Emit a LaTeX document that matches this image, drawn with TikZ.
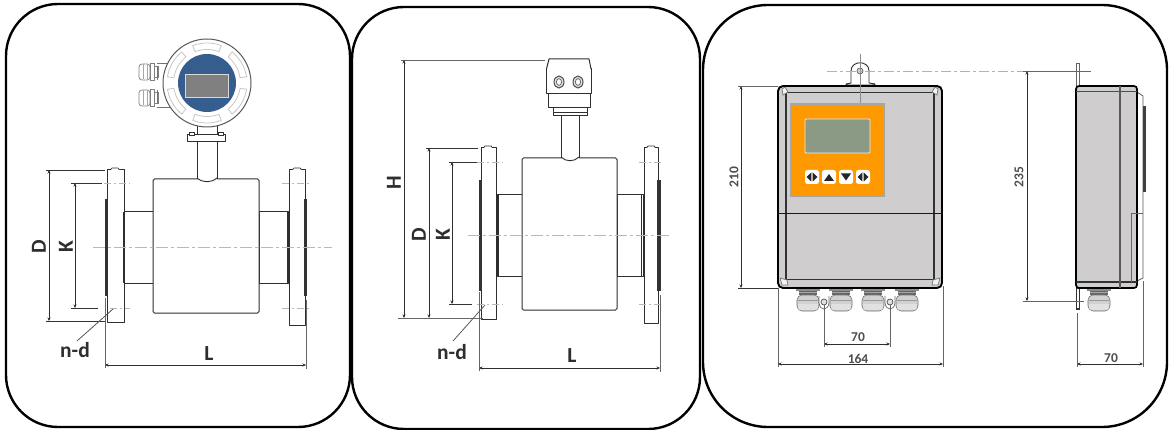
\documentclass[tikz,border=0pt]{standalone}
\usepackage{fontspec}
\setmainfont{Carlito}
\usetikzlibrary{arrows.meta}
\definecolor{ink}{HTML}{2E2E2E}
\definecolor{boxgray}{HTML}{CFCDCE}
\definecolor{blueface}{HTML}{355E8F}
\definecolor{lcdgray}{HTML}{808080}
\definecolor{panelorange}{HTML}{FF9900}
\definecolor{lcdgreen}{HTML}{8A9A85}
\tikzset{
  panel/.style={draw=black,line width=2.4pt,fill=white},
  part/.style={draw=ink,line width=1pt,fill=white,line join=round},
  gasket/.style={draw=none,fill=black!80},
  centre/.style={draw=black!28,line width=0.9pt,dash pattern=on 12pt off 3pt on 3pt off 3pt},
  holecl/.style={draw=black!28,line width=0.9pt,dash pattern=on 7pt off 3pt on 2pt off 3pt},
  ext/.style={draw=black!60,line width=0.8pt},
  extdark/.style={draw=black!80,line width=0.7pt},
  dimline/.style={draw=ink,line width=0.7pt,{Stealth[length=3.5pt,width=3pt]}-{Stealth[length=3.5pt,width=3pt]}},
  leader/.style={draw=black!65,line width=0.8pt},
  biglabel/.style={text=ink,inner sep=0pt,font=\fontsize{21.5}{22}\selectfont\bfseries},
  smalllabel/.style={text=ink!85,inner sep=0pt,font=\fontsize{13.5}{14}\selectfont\bfseries},
  lightpart/.style={draw=black!50,line width=0.7pt,fill=white},
  btn/.style={draw=none,fill=white,rounded corners=2.5pt,minimum size=14pt,inner sep=0pt},
  btnmark/.style={fill=black!85,draw=none}
}
\newcommand{\dimto}[5]{% name, x1,y1,x2,y2
  \coordinate (#1a) at (#2,#3);\coordinate (#1b) at (#4,#5);
  \draw[dimline] (#1a) -- (#1b);}
\newcommand{\extto}[6][ext]{% style, name, x1,y1,x2,y2
  \coordinate (#2a) at (#3,#4);\coordinate (#2b) at (#5,#6);
  \draw[#1] (#2a) -- (#2b);}
\newcommand{\glandv}[2]{%
  \begin{scope}[shift={(#1,#2)}]
    \fill[black!45] (-12,0) rectangle (12,2);
    \fill[black!60] (-9,2) rectangle (9,6);
    \draw[black!35,line width=0.6pt] (-9,3.5) -- (9,3.5);
    \draw[draw=black!55,line width=0.6pt,fill=black!18,rounded corners=5pt] (-11,6) -- (11,6) -- (11,22) -- (-11,22) -- cycle;
    \draw[black!40,line width=0.5pt] (-10,11) -- (10,11);
    \fill[white,opacity=.35] (-10,15) rectangle (10,21);
  \end{scope}}
\newcommand{\glandh}[2]{%
  \begin{scope}[shift={(#1,#2)}]
    \draw[lightpart,rounded corners=3pt] (0,-8) -- (11,-8) -- (11,8) -- (0,8) -- cycle;
    \draw[black!35,line width=0.5pt] (4,-7.5) -- (4,7.5) (8,-7.5) -- (8,7.5);
    \draw[lightpart] (11,-8.5) rectangle (15,8.5);
    \draw[lightpart] (15,-5.5) rectangle (19,5.5);
  \end{scope}}
\begin{document}
\begin{tikzpicture}[x=1pt,y=-1pt]
\useasboundingbox (0,0) rectangle (1174,430);
\fill[white] (0,0) rectangle (1174,430);
% ---------- panels
\draw[panel,rounded corners=52pt] (6,4) rectangle (350,427);
\draw[panel,rounded corners=52pt] (352,7) rectangle (700,429);
\draw[panel,rounded corners=65pt] (703,5) rectangle (1167,427);

% ---------- PANEL 1
\glandh{139}{72}
\glandh{139}{98}
\draw[draw=black!55,line width=0.7pt] (157,63) -- (172,63) (157,66.5) -- (157,80) (157,90) -- (157,103) (157,107) -- (172,107);
\draw[part] (197,120) rectangle (217,181);
\draw[part] (187,135) rectangle (225,142);
\draw[part,line width=0.6pt] (189,132) rectangle (194,135);
\draw[part,line width=0.6pt] (218,132) rectangle (223,135);
\draw[draw=black!65,line width=1pt,fill=white] (207,83) circle[radius=44];
\foreach \a in {90,30,-30,-90,150,210}{
  \draw[draw=black!22,line width=0.8pt,fill=white]
    plot[domain=\a-21:\a+21,samples=12] ({207+40*cos(\x)},{83+40*sin(\x)}) --
    plot[domain=\a+21:\a-21,samples=12] ({207+33.5*cos(\x)},{83+33.5*sin(\x)}) -- cycle;
}
\fill[blueface] (207,83) circle[radius=29];
\draw[draw=black!15,line width=0.9pt,fill=lcdgray] (185,74) rectangle (228,97);
\draw[part] (124,212) rectangle (153,283);
\draw[part] (259,212) rectangle (288,283);
\draw[part,rounded corners=1.5pt] (153,179) rectangle (259,313);
\draw[draw=white,fill=white] (198,178.5) rectangle (216,179.5);
\draw[draw=ink,line width=0.9pt] (197,178) .. controls (203,183) and (211,183) .. (217,178);
\draw[part] (107,170) rectangle (124,322);
\draw[part] (289,170) rectangle (305,325);
\draw[part,line width=0.7pt] (123,212) -- (123,283);
\draw[part,line width=0.7pt] (287,212) -- (287,283);
\draw[part,line width=0.7pt,rounded corners=1pt] (111,170) -- (111,168) -- (119,168) -- (119,170);
\draw[part,line width=0.7pt,rounded corners=1pt] (293,170) -- (293,168) -- (301,168) -- (301,170);
\fill[gasket] (105,199) rectangle (108,296);
\fill[gasket] (304,199) rectangle (307,296);
\draw[centre] (93,247) -- (332,247);
\draw[holecl] (104,183) -- (130,183);
\draw[holecl] (282,183) -- (310,183);
\draw[holecl] (110,308) -- (130,308);
\draw[holecl] (282,308) -- (310,308);
\extto[extdark]{ea1}{46}{170}{105}{170}
\extto[extdark]{ea2}{46}{321}{105}{321}
\extto[extdark]{ea3}{71}{183}{102}{183}
\extto[extdark]{ea4}{71}{308}{98}{308}
\dimto{da1}{49}{170}{49}{321}
\dimto{da2}{75}{183}{75}{308}
\extto{ea5}{105}{298}{105}{368}
\extto{ea6}{306}{300}{306}{369}
\dimto{da3}{105}{365}{306}{365}
\coordinate (la1) at (77,341);\coordinate (la2) at (113,309);
\draw[leader] (la1) -- (la2);
\node[biglabel,rotate=90] (lbDa) at (39,247) {D};
\node[biglabel,rotate=90] (lbKa) at (66,247) {K};
\node[biglabel] (lbNa) at (75,350) {n-d};
\node[biglabel] (lbLa) at (209,354) {L};

% ---------- PANEL 2
\draw[part] (561,114) rectangle (579,159.5);
\draw[part] (553,108) rectangle (587,116);
\draw[part,line width=0.7pt] (553,112) -- (587,112);
\draw[part] (548,94) -- (548,108) -- (590,108) -- (590,94);
\draw[part,fill=white] (546.5,69) rectangle (591,94);
\draw[part] (546.5,69) -- (549,59) -- (589,59) -- (591,69);
\foreach \hx in {559,578}{
  \draw[draw=black!70,line width=1pt,fill=black!12] (\hx,82) ellipse[x radius=5,y radius=6];
  \draw[draw=black!60,line width=0.8pt,fill=white] (\hx,82) ellipse[x radius=2.6,y radius=3.4];
}
\draw[part] (497,195) rectangle (522,276);
\draw[part] (617,195) rectangle (643,276);
\draw[part,rounded corners=1.5pt] (522,158) rectangle (617,310);
\draw[draw=white,fill=white] (562,157.5) rectangle (578,158.5);
\draw[draw=ink,line width=0.9pt] (561,157) .. controls (566,162) and (574,162) .. (579,157);
\draw[part] (481,148) rectangle (496,319);
\draw[part] (644,148) rectangle (658,323);
\draw[part,line width=0.7pt] (641,195) -- (641,276);
\draw[part,line width=0.7pt] (498,195) -- (498,276);
\draw[part,line width=0.7pt,rounded corners=1pt] (484,148) -- (484,146) -- (492,146) -- (492,148);
\draw[part,line width=0.7pt,rounded corners=1pt] (647,148) -- (647,146) -- (655,146) -- (655,148);
\fill[gasket] (479,180) rectangle (482,291);
\fill[gasket] (657,180) rectangle (661,291);
\draw[centre] (468,235) -- (672,235);
\draw[holecl] (477,162) -- (503,162);
\draw[holecl] (639,162) -- (663,162);
\draw[holecl] (477,304) -- (503,304);
\draw[holecl] (639,304) -- (663,304);
\extto{eb1}{401}{60}{545}{60}
\extto{eb2}{398}{318}{483}{318}
\extto[extdark]{eb3}{426}{148}{478}{148}
\extto[extdark]{eb4}{449}{162}{477}{162}
\extto[extdark]{eb5}{449}{304}{472}{304}
\dimto{db1}{404}{60}{404}{318}
\dimto{db2}{429}{148}{429}{318}
\dimto{db3}{452}{162}{452}{304}
\extto{eb6}{479}{292}{479}{371}
\extto{eb7}{660}{295}{660}{372}
\dimto{db4}{479}{368}{660}{368}
\coordinate (lb1) at (453,341);\coordinate (lb2) at (485,305);
\draw[leader] (lb1) -- (lb2);
\node[biglabel,rotate=90] (lbHb) at (394,183) {H};
\node[biglabel,rotate=90] (lbDb) at (419,235) {D};
\node[biglabel,rotate=90] (lbKb) at (443,235) {K};
\node[biglabel] (lbNb) at (452,352) {n-d};
\node[biglabel] (lbLb) at (572,356) {L};

% ---------- PANEL 3 front view
\glandv{808}{289}
\glandv{841}{289}
\glandv{873}{289}
\glandv{907}{289}
\foreach \sx in {824,890}{
  \draw[draw=black!60,line width=0.7pt,fill=white] (\sx-5,296) -- (\sx-5,303) .. controls (\sx-4,311) and (\sx+4,311) .. (\sx+5,303) -- (\sx+5,296);
  \draw[draw=black!70,line width=0.7pt,fill=black!12] (\sx,302) circle[radius=3];
}
\draw[part,line width=0.9pt] (846,85) -- (846,84) -- (851,83) -- (851,71) .. controls (851,60) and (869,60) .. (869,71) -- (869,83) -- (875,84) -- (875,85) -- cycle;
\draw[draw=black!65,line width=0.7pt,fill=black!15] (860,71) circle[radius=3];
\draw[draw=black,line width=1.9pt,fill=boxgray,rounded corners=5pt] (778,86) rectangle (942,288);
\draw[draw=black!80,line width=1pt] (786,93) -- (934,93) (786,279) -- (934,279);
\draw[draw=black!80,line width=1.3pt] (786,93) -- (786,279) (934,93) -- (934,279);
\draw[draw=black!55,line width=0.7pt,fill=black!5] (782,89) -- (785,87) -- (788,92) -- (783,95) -- cycle;
\draw[draw=black!55,line width=0.7pt,fill=black!5] (938,89) -- (935,87) -- (932,92) -- (937,95) -- cycle;
\draw[draw=black!55,line width=0.7pt,fill=black!5] (782,285) -- (788,285) -- (787,280) -- (780,278) -- cycle;
\draw[draw=black!55,line width=0.7pt,fill=black!5] (938,285) -- (932,285) -- (933,280) -- (940,278) -- cycle;
\draw[draw=black!90,line width=0.8pt] (778,213) -- (942,213);
\fill[black!35] (790,103) rectangle (885,197);
\fill[panelorange] (792,105) rectangle (883,195);
\draw[draw=black!8,line width=0.8pt,fill=lcdgreen,rounded corners=1pt] (805,119) rectangle (870,153);
\node[btn] (btnA) at (812,177) {};
\node[btn] (btnB) at (829,177) {};
\node[btn] (btnC) at (846,177) {};
\node[btn] (btnD) at (863,177) {};
\fill[btnmark] (811.3,172.5) -- (811.3,181.5) -- (806.5,177) -- cycle;
\fill[btnmark] (812.7,172.5) -- (812.7,181.5) -- (817.5,177) -- cycle;
\fill[btnmark] (824,181) -- (834,181) -- (829,174) -- cycle;
\fill[btnmark] (841,173.5) -- (851,173.5) -- (846,180.5) -- cycle;
\fill[btnmark] (862.3,172.5) -- (862.3,181.5) -- (857.5,177) -- cycle;
\fill[btnmark] (863.7,172.5) -- (863.7,181.5) -- (868.5,177) -- cycle;
\draw[draw=black!45,line width=0.8pt] (860,54) -- (860,103);
\draw[draw=black!30,line width=0.8pt,dash pattern=on 10pt off 3pt on 3pt off 3pt] (827,71) -- (1023,71);
\extto{ec1}{738}{86}{778}{86}
\extto[extdark]{ec2}{738}{288}{778}{288}
\dimto{dc1}{741}{86}{741}{288}
\extto{ec3}{824}{305}{824}{347}
\extto{ec4}{890}{305}{890}{347}
\dimto{dc2}{824}{344}{890}{344}
\extto{ec5}{778}{288}{778}{367}
\extto{ec6}{943}{286}{943}{367}
\dimto{dc3}{778}{364}{943}{364}
\node[smalllabel,rotate=90] (lb210) at (734,177) {210};
\node[smalllabel] (lb70a) at (858,337) {70};
\node[smalllabel] (lb164) at (858,359) {164};

% ---------- side view
\glandv{1099}{289}
\draw[draw=black!60,line width=0.9pt,fill=white] (1076.5,63) rectangle (1079.5,86);
\draw[draw=black!80,line width=1.2pt,fill=white] (1076.5,288) rectangle (1079.5,309);
\draw[draw=black!65,line width=0.8pt,fill=white] (1137,92) -- (1143,96) -- (1143,278) -- (1137,281);
\fill[black!75] (1143,106) rectangle (1146,192);
\draw[draw=black,line width=1.7pt,fill=boxgray,rounded corners=3pt] (1076,86) rectangle (1137,288);
\draw[draw=black!70,line width=0.9pt] (1076,91) -- (1137,91);
\draw[draw=black!80,line width=1.1pt] (1076,282) -- (1137,282);
\draw[draw=black!65,line width=1.4pt] (1120,86) -- (1120,288);
\draw[draw=black!60,line width=0.7pt] (1131,282) -- (1131,213) -- (1143,213);
\extto{ed1}{1023}{71}{1091}{71}
\extto{ed2}{1023}{301}{1084}{301}
\dimto{dd1}{1027}{71}{1027}{301}
\extto{ed3}{1077}{313}{1077}{367}
\extto{ed4}{1143}{281}{1143}{367}
\dimto{dd2}{1077}{364}{1143}{364}
\node[smalllabel,rotate=90] (lb235) at (1019,177) {235};
\node[smalllabel] (lb70b) at (1111,358) {70};
\end{tikzpicture}
\end{document}
